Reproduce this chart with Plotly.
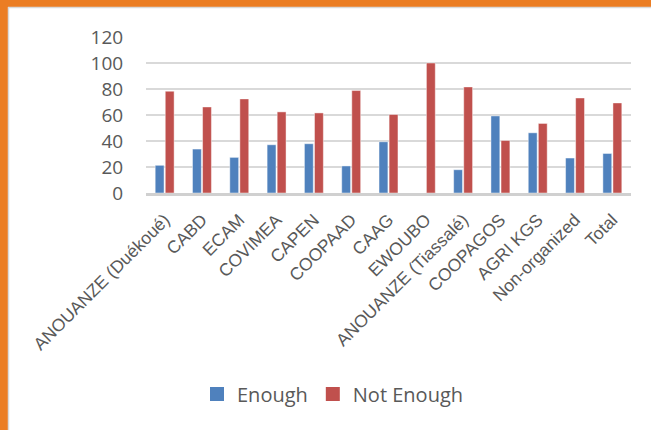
import plotly.graph_objects as go

categories = ["ANOUANZE (Duékoué)", "CABD", "ECAM", "COVIMEA", "CAPEN", "COOPAAD",
              "CAAG", "EWOUBO", "ANOUANZE (Tiassalé)", "COOPAGOS", "AGRI KGS",
              "Non-organized", "Total"]
enough = [21.3, 33.8, 27.4, 37.1, 37.9, 20.8, 39.4, 0, 17.9, 59.3, 46.3, 26.9, 30.4]
not_enough = [78.3, 66.2, 72.4, 62.4, 61.6, 78.8, 60.4, 100, 81.6, 40.4, 53.5, 73.1, 69.3]
y_ticks = [0, 20, 40, 60, 80, 100, 120]
series_names = ["Enough", "Not Enough"]

BLUE = "#4F81BD"
RED = "#C0504D"
ORANGE = "#EB7D23"
TXT = "#595959"

fig = go.Figure()
for name, vals, col in zip(series_names, [enough, not_enough], [BLUE, RED]):
    fig.add_trace(go.Bar(x=categories, y=vals, name=name, showlegend=False,
                         marker=dict(color=col, line=dict(color="rgba(255,255,255,0.45)", width=1))))
# legend entries with larger square swatches
for name, col in zip(series_names, [BLUE, RED]):
    fig.add_trace(go.Scatter(x=[None], y=[None], mode="markers", name=name,
                             marker=dict(symbol="square", size=14, color=col)))

L, R, T, B = 146, 20, 37, 237
W, H = 651, 430
pw = W - L - R
ph = H - T - B

def px_x(x):
    return (x - L) / pw

def px_y(y):
    return 1 - (y - T) / ph

shapes = [
    dict(type="rect", xref="paper", yref="paper", x0=px_x(-5), x1=px_x(8),
         y0=px_y(H + 5), y1=px_y(-5), fillcolor=ORANGE, line=dict(width=0), layer="above"),
    dict(type="rect", xref="paper", yref="paper", x0=px_x(-5), x1=px_x(W + 5),
         y0=px_y(7), y1=px_y(-5), fillcolor=ORANGE, line=dict(width=0), layer="above"),
    dict(type="line", xref="paper", yref="paper", x0=px_x(8.5), x1=px_x(8.5),
         y0=px_y(H + 5), y1=px_y(7), line=dict(color="#d9d9d9", width=1.5)),
    dict(type="line", xref="paper", yref="paper", x0=px_x(8), x1=px_x(W + 5),
         y0=px_y(7.5), y1=px_y(7.5), line=dict(color="#d9d9d9", width=1.5)),
]

fig.update_layout(
    width=W, height=H,
    margin=dict(l=L, r=R, t=T, b=B, pad=0),
    paper_bgcolor="white", plot_bgcolor="white",
    barmode="group", bargap=0.46, bargroupgap=0.12,
    shapes=shapes,
    showlegend=True,
    legend=dict(orientation="h", x=px_x(197), xanchor="left", y=px_y(394), yanchor="middle",
                font=dict(family="Open Sans", size=20, color=TXT), itemwidth=30,
                traceorder="normal", itemsizing="trace"),
    yaxis=dict(range=[0, 120], tickvals=y_ticks, showgrid=True, gridcolor="#d9d9d9", gridwidth=1.6,
               zeroline=False, showline=False, ticks="outside", ticklen=18,
               tickcolor="rgba(0,0,0,0)",
               tickfont=dict(family="Open Sans", size=19, color=TXT)),
    xaxis=dict(tickangle=-45, showline=True, linecolor="#d0d0d0", linewidth=2.5,
               tickfont=dict(family="Liberation Sans", size=17.5, color=TXT),
               ticks="outside", ticklen=7, tickcolor="rgba(0,0,0,0)"),
)

fig.write_html("out.html")
